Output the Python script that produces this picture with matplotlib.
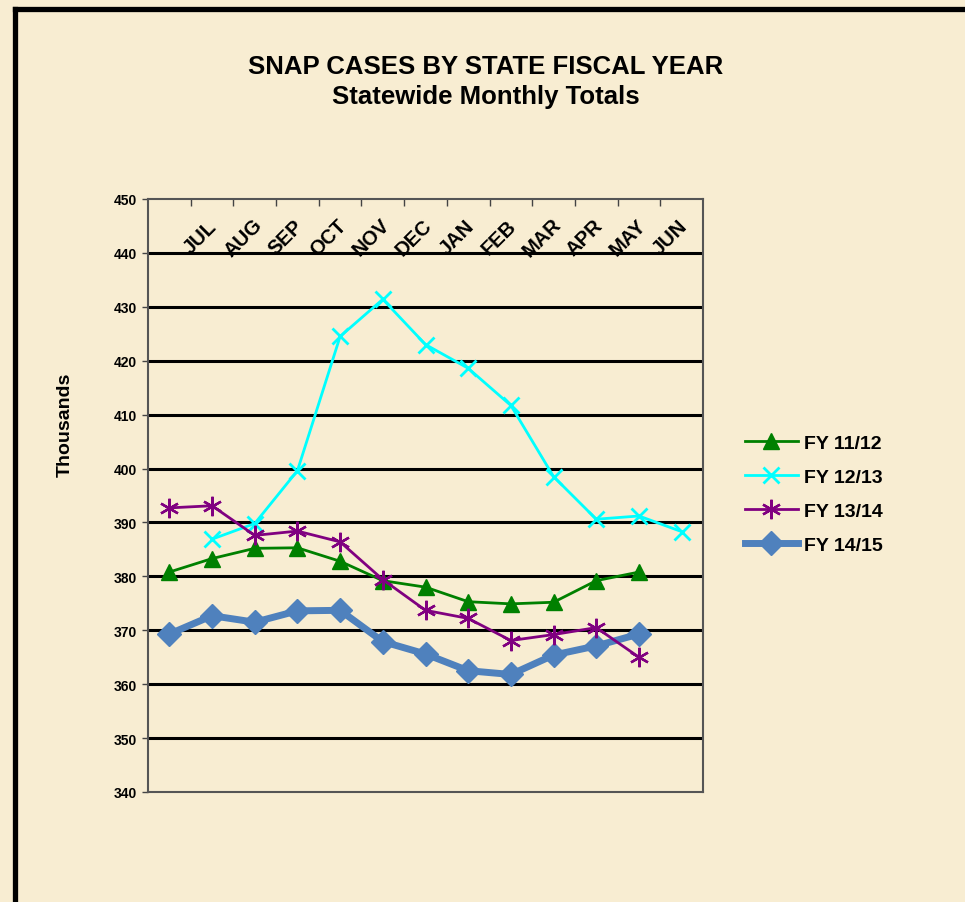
import numpy as np
import matplotlib
matplotlib.use("Agg")
import matplotlib.pyplot as plt
from matplotlib.lines import Line2D
from matplotlib.transforms import blended_transform_factory

plt.rcParams['font.family'] = ['Liberation Sans', 'DejaVu Sans']
plt.rcParams['font.weight'] = 'bold'

# categories (13 slots on the axis, months labeled on 12 of them)
months = ['JUL', 'AUG', 'SEP', 'OCT', 'NOV', 'DEC', 'JAN', 'FEB', 'MAR', 'APR', 'MAY', 'JUN']

# series values (thousands)
fy1112_x = list(range(0, 12))
fy1112 = [380.8, 383.3, 385.2, 385.3, 382.8, 379.2, 378.0, 375.3, 374.9, 375.2, 379.2, 380.8]

fy1213_x = list(range(1, 13))
fy1213 = [386.9, 389.8, 399.6, 424.5, 431.4, 423.0, 418.6, 411.7, 398.5, 390.6, 391.2, 388.3]

fy1314_x = list(range(0, 12))
fy1314 = [392.7, 393.1, 387.6, 388.4, 386.4, 379.4, 373.7, 372.2, 368.1, 369.2, 370.5, 365.0]

fy1415_x = list(range(0, 12))
fy1415 = [369.3, 372.7, 371.5, 373.6, 373.7, 367.9, 365.6, 362.5, 361.8, 365.4, 367.1, 369.3]

yticks = list(range(340, 451, 10))

bg = '#F8EDD2'
W, H = 965, 903
fig = plt.figure(figsize=(W / 100, H / 100), dpi=100, facecolor=bg)

ax = fig.add_axes([148 / W, 1 - 793 / H, (703 - 148) / W, (793 - 200) / H])
ax.set_facecolor('none')

for y in yticks[1:-1]:
    ax.axhline(y, color='black', lw=2.2, zorder=1)

ax.plot(fy1112_x, fy1112, color='#008000', lw=2, marker='^', ms=12, zorder=3, label='FY 11/12')
ax.plot(fy1213_x, fy1213, color='#00FFFF', lw=2, marker='x', ms=12, mew=2, zorder=3, label='FY 12/13')
ax.plot(fy1314_x, fy1314, color='#800080', lw=2, marker=(6, 2, 0), ms=14, mew=1.7, zorder=4, label='FY 13/14')
ax.plot(fy1415_x, fy1415, color='#4F81BD', lw=5, marker='D', ms=12, zorder=2, label='FY 14/15')

ax.set_xlim(-0.5, 12.5)
ax.set_ylim(340, 450)
ax.set_yticks(yticks)
ax.tick_params(axis='y', direction='out', length=4, width=1, color='#444444', labelsize=10, pad=4)
ax.xaxis.tick_top()
ax.set_xticks(np.arange(0.5, 12, 1))
ax.set_xticklabels([])
ax.tick_params(axis='x', direction='in', length=5, width=1, color='#444444')
for sp in ax.spines.values():
    sp.set_color('#555555')
    sp.set_linewidth(1.5)

trans = blended_transform_factory(ax.transData, ax.transAxes)
for k, m in enumerate(months, start=1):
    ax.text(k - 0.27, 0.936, m, transform=trans, rotation=45, ha='center', va='center',
            fontsize=14.5, fontweight='bold')

fig.text(65 / W, 1 - 425 / H, 'Thousands', rotation=90, ha='center', va='center',
         fontsize=14, fontweight='bold')

fig.text(486 / W, 1 - 67 / H, 'SNAP CASES BY STATE FISCAL YEAR', ha='center', va='center',
         fontsize=18.5, fontweight='bold')
fig.text(486 / W, 1 - 97 / H, 'Statewide Monthly Totals', ha='center', va='center',
         fontsize=18.5, fontweight='bold')

leg = ax.legend(loc='center left', bbox_to_anchor=(745 / W, 1 - 495 / H), bbox_transform=fig.transFigure,
                frameon=False, fontsize=14, handlelength=2.7, handletextpad=0.35,
                labelspacing=0.85, borderpad=0, borderaxespad=0)
for t in leg.get_texts():
    t.set_fontweight('bold')

# thick black frame on top and left edges
fig.add_artist(Line2D([14.5 / W, 14.5 / W], [0, 1 - 9.5 / H], color='black', lw=3.8,
                      transform=fig.transFigure, solid_capstyle='projecting'))
fig.add_artist(Line2D([14.5 / W, 1], [1 - 9.5 / H, 1 - 9.5 / H], color='black', lw=3.8,
                      transform=fig.transFigure, solid_capstyle='projecting'))

fig.savefig('out.png', dpi=100, facecolor=bg)
